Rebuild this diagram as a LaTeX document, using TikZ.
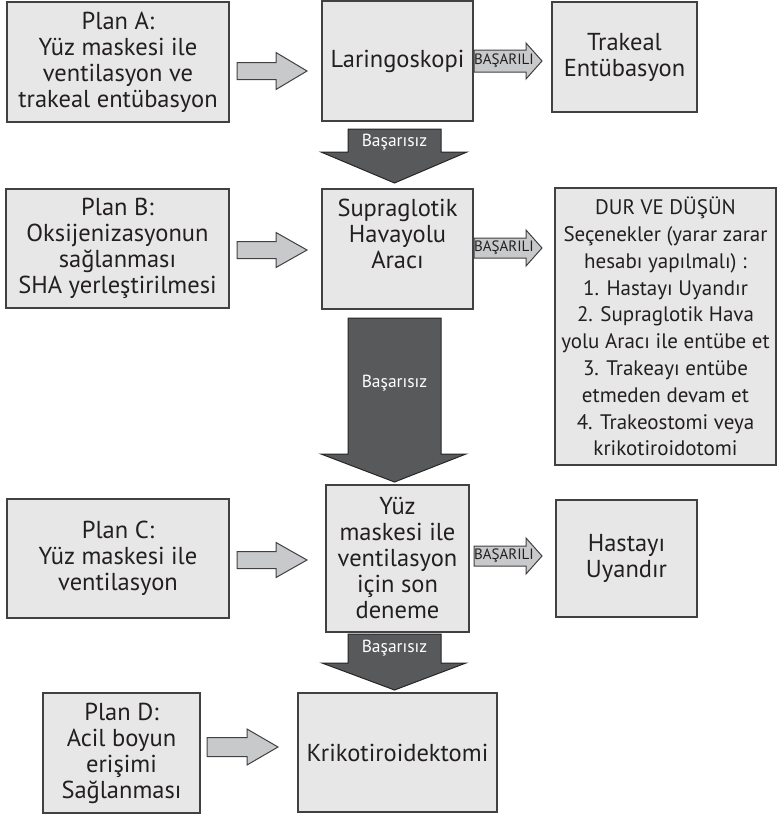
\documentclass[tikz,border=0pt]{standalone}
\usepackage{fontspec}
\setmainfont{PT Sans}
\definecolor{boxfill}{RGB}{231,231,232}
\definecolor{edge}{RGB}{65,64,66}
\definecolor{larrow}{RGB}{200,201,203}
\definecolor{darrow}{RGB}{88,89,91}
\definecolor{txt}{RGB}{35,31,32}
\newcommand\hblock[6]{%
  \draw[larr] ({#1},{#4-#5}) -- ({#2},{#4-#5}) -- ({#2},{#4-#6}) -- ({#3},{#4})
    -- ({#2},{#4+#6}) -- ({#2},{#4+#5}) -- ({#1},{#4+#5}) -- cycle;}
\newcommand\vblock[7]{%
  \draw[darr] ({#1},{#3}) -- ({#2},{#3}) -- ({#2},{#4}) -- ({#7},{#4})
    -- ({(#1+#2)/2},{#5}) -- ({#6},{#4}) -- ({#1},{#4}) -- cycle;}
\begin{document}
\begin{tikzpicture}[x=1pt,y=-1pt,
  box/.style={draw=edge,fill=boxfill,line width=1.3pt,anchor=north west,inner sep=1pt,
    outer sep=0pt,align=center,text=txt,font=\fontsize{24.5}{26}\selectfont},
  larr/.style={draw=edge,fill=larrow,line width=1pt,line join=miter},
  darr/.style={draw=black!85,fill=darrow,line width=1pt,line join=miter},
  succ/.style={font=\fontsize{15}{15}\selectfont,text=txt,inner sep=0pt},
  fail/.style={font=\fontsize{17.5}{17.5}\selectfont,text=white,inner sep=0pt}]
\useasboundingbox (0,0) rectangle (777,814);

% boxes
\node[box,minimum width=222,minimum height=120] (pa) at (7,2)
  {Plan A:\\Yüz maskesi ile\\ventilasyon ve\\trakeal entübasyon};
\node[box,minimum width=151,minimum height=120] (lar) at (322,1) {Laringoskopi};
\node[box,minimum width=145,minimum height=110] (te) at (552,2) {Trakeal\\Entübasyon};

\node[box,minimum width=223,minimum height=119] (pb) at (6,189)
  {Plan B:\\Oksijenizasyonun\\sağlanması\\SHA yerleştirilmesi};
\node[box,minimum width=151,minimum height=120] (sga) at (322,189)
  {Supraglotik\\Havayolu\\Aracı\\[4pt]};
\node[box,minimum width=221,minimum height=277,font=\fontsize{21}{26.8}\selectfont] (dur) at (555,188)
  {DUR VE DÜŞÜN\\Seçenekler (yarar zarar\\hesabı yapılmalı) :\\1. Hastayı Uyandır\\2. Supraglotik Hava\\yolu Aracı ile entübe et\\3. Trakeayı entübe\\etmeden devam et\\4. Trakeostomi veya\\krikotiroidotomi};

\node[box,minimum width=222,minimum height=119] (pc) at (7,499)
  {Plan C:\\Yüz maskesi ile\\ventilasyon};
\node[box,minimum width=143,minimum height=147] (yuz) at (326,485)
  {Yüz\\maskesi ile\\ventilasyon\\için son\\deneme};
\node[box,minimum width=141,minimum height=117] (uy) at (556,500) {Hastayı\\Uyandır};

\node[box,minimum width=157,minimum height=120] (pd) at (43,693)
  {Plan D:\\Acil boyun\\erişimi\\Sağlanması};
\node[box,minimum width=199,minimum height=119] (kr) at (298,693) {Krikotiroidektomi};

% light block arrows (plans -> actions)
\hblock{237}{276}{307}{71}{8.5}{18.5}
\hblock{237}{276}{307}{250}{8.5}{17.5}
\hblock{237}{276}{307}{560}{8.5}{17.5}
\hblock{207}{247}{278}{747}{9.5}{18}

% success arrows
\hblock{474}{526}{542}{61}{11}{18}
\hblock{474}{526}{542}{248}{10}{18}
\hblock{474}{526}{542}{556}{10}{18}
\node[succ] (s1) at (504,61) {BAŞARILI};
\node[succ] (s2) at (504,248) {BAŞARILI};
\node[succ] (s3) at (504,556) {BAŞARILI};

% failure arrows
\vblock{348}{441}{129}{152}{183}{321}{467}
\vblock{348}{441}{318}{454}{482}{321}{466}
\vblock{348}{441}{634}{663}{690}{322}{466}
\node[fail] (f1) at (394.5,142) {Başarısız};
\node[fail] (f2) at (394.5,383) {Başarısız};
\node[fail] (f3) at (394.5,648) {Başarısız};
\end{tikzpicture}
\end{document}
